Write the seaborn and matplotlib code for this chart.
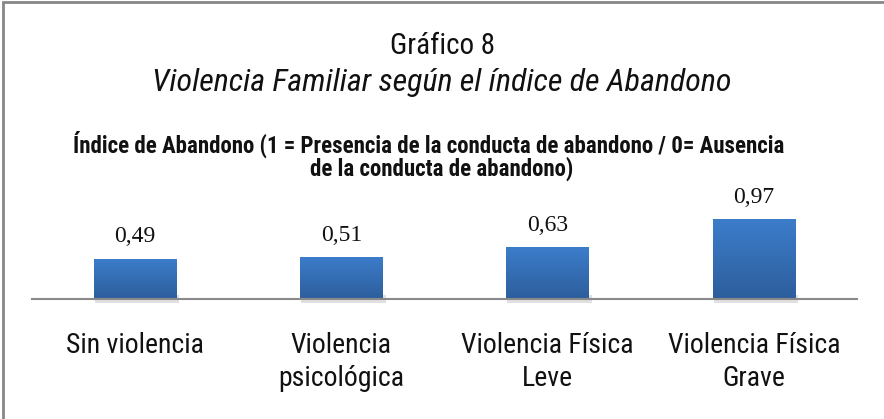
import matplotlib
matplotlib.use("Agg")
import matplotlib.pyplot as plt
from matplotlib import font_manager
from matplotlib.patches import Rectangle
import numpy as np
import pandas as pd
import seaborn as sns

categories = ["Sin violencia", "Violencia\npsicológica", "Violencia Física\nLeve", "Violencia Física\nGrave"]
values = [0.49, 0.51, 0.63, 0.97]
value_labels = ["0,49", "0,51", "0,63", "0,97"]
title1 = "Gráfico 8"
title2 = "Violencia Familiar según el índice de Abandono"
subtitle_l1 = "Índice de Abandono (1 = Presencia de la conducta de abandono / 0= Ausencia"
subtitle_l2 = "de la conducta de abandono)"


def pick(fams):
    for f in fams:
        try:
            font_manager.findfont(font_manager.FontProperties(family=f), fallback_to_default=False)
            return f
        except Exception:
            continue
    return "DejaVu Sans"

sans = pick(["Liberation Sans Narrow", "Roboto Condensed", "Open Sans", "Liberation Sans"])
serif = pick(["Liberation Serif", "DejaVu Serif"])

sns.set_theme(style="white")
plt.rcParams["font.family"] = [sans, "DejaVu Sans"]

W, H = 884, 419
fig = plt.figure(figsize=(W / 100, H / 100), dpi=100)
fig.patch.set_facecolor("white")

ax_left, ax_right = 32, 857
base_y, top_y = 299, 200
ax = fig.add_axes([ax_left / W, (H - base_y) / H, (ax_right - ax_left) / W, (base_y - top_y) / H])

df = pd.DataFrame({"cat": categories, "val": values})
sns.barplot(data=df, x="cat", y="val", width=0.4, color="#3670B8", saturation=1, ax=ax, zorder=3)
ax.set_ylim(0, 1.2)
ax.set_xlim(-0.5, len(categories) - 0.5)

# gradient + soft shadow on bars
grad = np.linspace(0, 1, 256).reshape(-1, 1)
cmap = matplotlib.colors.LinearSegmentedColormap.from_list("g", ["#3C7DCB", "#2D5E9C"])
for p in list(ax.patches):
    x0, w, h = p.get_x(), p.get_width(), p.get_height()
    sh = Rectangle((x0 + 0.005, -0.05), w + 0.01, 0.1, facecolor="#9a9a9a", alpha=0.3,
                   edgecolor="none", zorder=1, clip_on=False)
    ax.add_patch(sh)
    im = ax.imshow(grad, extent=[x0, x0 + w, 0, h], aspect="auto", cmap=cmap, zorder=4, origin="upper")
    im.set_clip_path(p)
    p.set_edgecolor("none")

ax.bar_label(ax.containers[0], labels=value_labels, padding=8, fontsize=17,
             family=serif, color="#111111", zorder=5)

for s in ["top", "left", "right"]:
    ax.spines[s].set_visible(False)
ax.spines["bottom"].set_color("#8a8a8a")
ax.spines["bottom"].set_linewidth(1.5)
ax.spines["bottom"].set_zorder(6)
ax.set_yticks([])
ax.set_xlabel("")
ax.set_ylabel("")
ax.tick_params(axis="x", length=0, pad=24, labelsize=20, labelcolor="#111111")
for t in ax.get_xticklabels():
    t.set_linespacing(1.25)

fig.text(0.5, 1 - 46 / H, title1, ha="center", va="center", fontsize=21, color="#111111")
fig.text(0.5, 1 - 82 / H, title2, ha="center", va="center", fontsize=23, style="italic", color="#111111")
fig.text(428.5 / W, 1 - 153 / H, subtitle_l1, ha="center", va="baseline", fontsize=16.5,
         fontweight="bold", color="#111111")
fig.text(442 / W, 1 - 176 / H, subtitle_l2, ha="center", va="baseline", fontsize=16.5,
         fontweight="bold", color="#111111")

fig.add_artist(Rectangle((2.5 / W, -0.05), 1.1, (H - 2.5) / H + 0.05, fill=False,
                         edgecolor="#878787", linewidth=2, transform=fig.transFigure))

fig.savefig("out.png", dpi=100, facecolor="white")
